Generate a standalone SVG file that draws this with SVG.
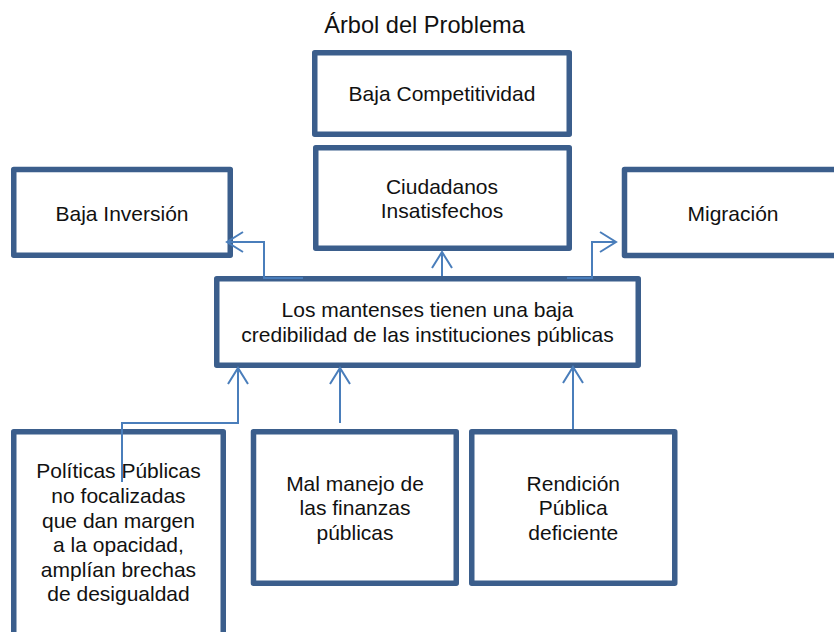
<svg xmlns="http://www.w3.org/2000/svg" width="834" height="632" viewBox="0 0 834 632">
<style>
.box{fill:#ffffff;stroke:#3b5e8c;stroke-width:5.5;stroke-linejoin:round}
.t{font-family:"Liberation Sans",Arial,sans-serif;font-size:21px;fill:#111111;text-anchor:middle}
.title{font-family:"Liberation Sans",Arial,sans-serif;font-size:23.6px;fill:#111111;text-anchor:middle}
.c{fill:none;stroke:#4a7ebb;stroke-width:2}
</style>
<defs>
<marker id="arr" markerUnits="userSpaceOnUse" markerWidth="20" markerHeight="24" refX="16" refY="10" orient="auto" overflow="visible">
<path d="M0,0 L16,10 L0,20" fill="none" stroke="#4a7ebb" stroke-width="2"/>
</marker>
</defs>
<rect width="834" height="632" fill="#ffffff"/>
<text class="title" x="424.5" y="33">Árbol del Problema</text>
<g id="competitividad">
<rect class="box" x="314.75" y="52.75" width="254.5" height="81.5"/>
<text class="t" x="442" y="101">Baja Competitividad</text>
</g>
<g id="ciudadanos">
<rect class="box" x="315.75" y="147.75" width="253.5" height="100.5"/>
<text class="t" x="442" y="194">Ciudadanos</text>
<text class="t" x="442" y="217.5">Insatisfechos</text>
</g>
<g id="inversion">
<rect class="box" x="13.75" y="169.5" width="216.5" height="85.75"/>
<text class="t" x="122" y="221">Baja Inversión</text>
</g>
<g id="migracion">
<rect class="box" x="624.5" y="169.5" width="220" height="86"/>
<text class="t" x="733" y="221">Migración</text>
</g>
<g id="central">
<rect class="box" x="216.75" y="278.75" width="421.5" height="86.5"/>
<text class="t" x="427.5" y="316.7">Los mantenses tienen una baja</text>
<text class="t" x="427.5" y="341.7">credibilidad de las instituciones públicas</text>
</g>
<g id="politicas">
<rect class="box" x="13.75" y="431.75" width="209.5" height="230"/>
<text class="t" x="118.5" y="478.3">Políticas Públicas</text>
<text class="t" x="118.5" y="503">no focalizadas</text>
<text class="t" x="118.5" y="527.7">que dan margen</text>
<text class="t" x="118.5" y="552.4">a la opacidad,</text>
<text class="t" x="118.5" y="576.7">amplían brechas</text>
<text class="t" x="118.5" y="601">de desigualdad</text>
</g>
<g id="finanzas">
<rect class="box" x="253.5" y="431.75" width="202.75" height="151.5"/>
<text class="t" x="355" y="490.7">Mal manejo de</text>
<text class="t" x="355" y="515">las finanzas</text>
<text class="t" x="355" y="539.5">públicas</text>
</g>
<g id="rendicion">
<rect class="box" x="471.75" y="431.75" width="203" height="151.5"/>
<text class="t" x="573.3" y="490.7">Rendición</text>
<text class="t" x="573.3" y="515">Pública</text>
<text class="t" x="573.3" y="540">deficiente</text>
</g>
<g id="connectors">
<path class="c" d="M303,278 H264 V242 H227" marker-end="url(#arr)"/>
<path class="c" d="M442,276 V252" marker-end="url(#arr)"/>
<path class="c" d="M567,278 H592 V242 H616" marker-end="url(#arr)"/>
<path class="c" d="M122,482 V423 H238 V368" marker-end="url(#arr)"/>
<path class="c" d="M340,423 V368" marker-end="url(#arr)"/>
<path class="c" d="M573,429 V367" marker-end="url(#arr)"/>
</g>
</svg>
